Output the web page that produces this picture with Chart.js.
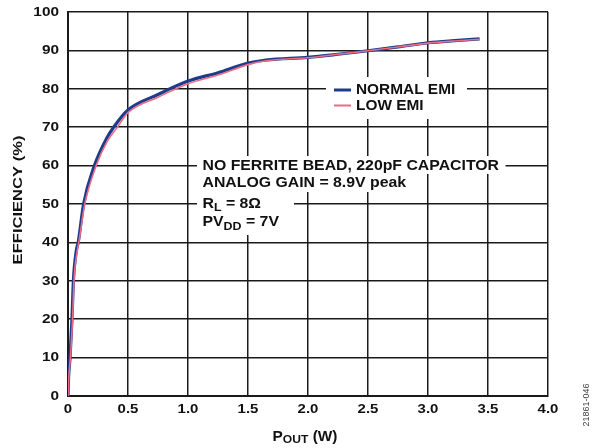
<!DOCTYPE html>
<html>
<head>
<meta charset="utf-8">
<script src="https://cdn.jsdelivr.net/npm/chart.js@4"></script>
<style>
  html, body { margin: 0; padding: 0; background: #fff; }
  #wrap { width: 595px; height: 448px; }
</style>
</head>
<body>
<div id="wrap"><canvas id="chart" width="595" height="448"></canvas></div>
<script>
// Efficiency vs output power
const powerNormal = [0, 0.005, 0.017, 0.033, 0.045, 0.07, 0.085, 0.13, 0.22, 0.32, 0.38, 0.5, 0.75, 1.0, 1.25, 1.5, 1.65, 2.0, 2.25, 2.5, 2.75, 3.0, 3.25, 3.43];
const effNormal   = [0, 5, 10, 20, 30, 38, 40, 50, 60, 67, 70, 74.5, 78.5, 82, 84.2, 86.7, 87.5, 88.2, 89, 89.9, 90.9, 92, 92.6, 93];

const powerLow = [0, 0.007, 0.02, 0.038, 0.05, 0.078, 0.09, 0.14, 0.235, 0.33, 0.4, 0.5, 0.75, 1.0, 1.25, 1.5, 1.65, 2.0, 2.25, 2.5, 2.75, 3.0, 3.25, 3.43];
const effLow   = [0, 5, 10, 20, 30, 38, 40, 50, 60, 66.5, 69.5, 73.8, 77.8, 81.3, 83.6, 86.3, 87.3, 88.1, 89, 89.9, 90.9, 91.9, 92.5, 92.9];

const xTicks = [0, 0.5, 1.0, 1.5, 2.0, 2.5, 3.0, 3.5, 4.0];
const xTickLabels = ['0', '0.5', '1.0', '1.5', '2.0', '2.5', '3.0', '3.5', '4.0'];
const yTicks = [0, 10, 20, 30, 40, 50, 60, 70, 80, 90, 100];

const seriesNames = ['NORMAL EMI', 'LOW EMI'];
const seriesColors = ['#1d3c8a', '#ec6a86'];

const noteLines = ['NO FERRITE BEAD, 220pF CAPACITOR', 'ANALOG GAIN = 8.9V peak'];

const FONT = '"Liberation Sans", Arial, sans-serif';

// draw a run of text pieces (for subscripts), stretched horizontally by sx
function drawRuns(ctx, parts, x, y, sx, align) {
  ctx.save();
  ctx.textBaseline = 'middle';
  let total = 0;
  parts.forEach(p => {
    ctx.font = `bold ${p.size}px ${FONT}`;
    p.w = ctx.measureText(p.t).width * sx;
    total += p.w;
  });
  let cx = x;
  if (align === 'center') cx = x - total / 2;
  if (align === 'right') cx = x - total;
  parts.forEach(p => {
    ctx.save();
    ctx.font = `bold ${p.size}px ${FONT}`;
    ctx.translate(cx, y + (p.dy || 0));
    ctx.scale(sx, 1);
    ctx.textAlign = 'left';
    ctx.fillText(p.t, 0, 0);
    ctx.restore();
    cx += p.w;
  });
  ctx.restore();
  return total;
}

const decorPlugin = {
  id: 'decor',
  afterDraw(chart) {
    const ctx = chart.ctx;
    const xs = chart.scales.x, ys = chart.scales.y;
    ctx.save();
    ctx.fillStyle = '#111';

    // tick labels
    yTicks.forEach(v => drawRuns(ctx, [{ t: String(v), size: 12 }], 59, ys.getPixelForValue(v) + 0.5, 1.28, 'right'));
    xTicks.forEach((v, i) => drawRuns(ctx, [{ t: xTickLabels[i], size: 13 }], xs.getPixelForValue(v), 409.5, 1.15, 'center'));

    // axis titles
    drawRuns(ctx, [{ t: 'P', size: 14 }, { t: 'OUT', size: 11, dy: 3 }, { t: ' (W)', size: 14 }], 305, 437, 1.1, 'center');
    ctx.save();
    ctx.translate(19, 200);
    ctx.rotate(-Math.PI / 2);
    ctx.fillStyle = '#111';
    drawRuns(ctx, [{ t: 'EFFICIENCY (%)', size: 12 }], 0, 0, 1.38, 'center');
    ctx.restore();

    // figure id on the right edge
    ctx.save();
    ctx.translate(587, 405);
    ctx.rotate(-Math.PI / 2);
    ctx.font = `9px ${FONT}`;
    ctx.fillStyle = '#444';
    ctx.textAlign = 'center';
    ctx.textBaseline = 'middle';
    ctx.fillText('21861-046', 0, 0);
    ctx.restore();

    // legend box
    ctx.fillStyle = '#fff';
    ctx.fillRect(326, 77, 141, 42);
    seriesNames.forEach((name, i) => {
      const yy = 90 + i * 15.5;
      ctx.strokeStyle = seriesColors[i];
      ctx.lineWidth = i === 0 ? 3 : 2;
      ctx.beginPath();
      ctx.moveTo(334, yy);
      ctx.lineTo(351, yy);
      ctx.stroke();
      ctx.fillStyle = '#111';
      drawRuns(ctx, [{ t: name, size: 14 }], 356, yy + 0.5, 1.1, 'left');
    });

    // annotation block
    ctx.font = `bold 14px ${FONT}`;
    const noteY = [166, 183.5, 204, 222.5];
    const w0 = ctx.measureText(noteLines[0]).width * 1.13;
    const w1 = ctx.measureText(noteLines[1]).width * 1.13;
    ctx.fillStyle = '#fff';
    ctx.fillRect(197, 156, w0 + 12, 18);
    ctx.fillRect(197, 174, w1 + 12, 18);
    ctx.fillRect(197, 192, 97, 43);
    ctx.fillStyle = '#111';
    drawRuns(ctx, [{ t: noteLines[0], size: 14 }], 202.5, noteY[0], 1.13, 'left');
    drawRuns(ctx, [{ t: noteLines[1], size: 14 }], 202.5, noteY[1], 1.13, 'left');
    drawRuns(ctx, [{ t: 'R', size: 14 }, { t: 'L', size: 11, dy: 4 }, { t: ' = 8\u03A9', size: 14 }], 202.5, noteY[2], 1.13, 'left');
    drawRuns(ctx, [{ t: 'PV', size: 14 }, { t: 'DD', size: 11, dy: 4 }, { t: ' = 7V', size: 14 }], 202.5, noteY[3], 1.13, 'left');
    ctx.restore();
  }
};

const toPoints = (xs, ys) => xs.map((x, i) => ({ x: x, y: ys[i] }));

new Chart(document.getElementById('chart'), {
  type: 'line',
  data: {
    datasets: [
      {
        label: seriesNames[0],
        data: toPoints(powerNormal, effNormal),
        borderColor: seriesColors[0],
        borderWidth: 3.2,
        pointRadius: 0,
        cubicInterpolationMode: 'monotone',
        order: 2
      },
      {
        label: seriesNames[1],
        data: toPoints(powerLow, effLow),
        borderColor: seriesColors[1],
        borderWidth: 1.6,
        pointRadius: 0,
        cubicInterpolationMode: 'monotone',
        order: 1
      }
    ]
  },
  options: {
    responsive: false,
    animation: false,
    layout: { padding: { top: 12, right: 47, left: 0, bottom: 0 } },
    plugins: { legend: { display: false }, tooltip: { enabled: false } },
    scales: {
      x: {
        type: 'linear',
        min: 0, max: 4,
        afterFit: s => { s.height = 52; },
        ticks: { display: false, stepSize: 0.5 },
        grid: { color: '#1a1a1a', lineWidth: 1.5, drawTicks: false },
        border: { color: '#1a1a1a', width: 2 }
      },
      y: {
        min: 0, max: 100,
        afterFit: s => { s.width = 68; },
        ticks: { display: false, stepSize: 10 },
        grid: { color: '#1a1a1a', lineWidth: 1.5, drawTicks: false },
        border: { color: '#1a1a1a', width: 2 }
      }
    }
  },
  plugins: [decorPlugin]
});
</script>
</body>
</html>
